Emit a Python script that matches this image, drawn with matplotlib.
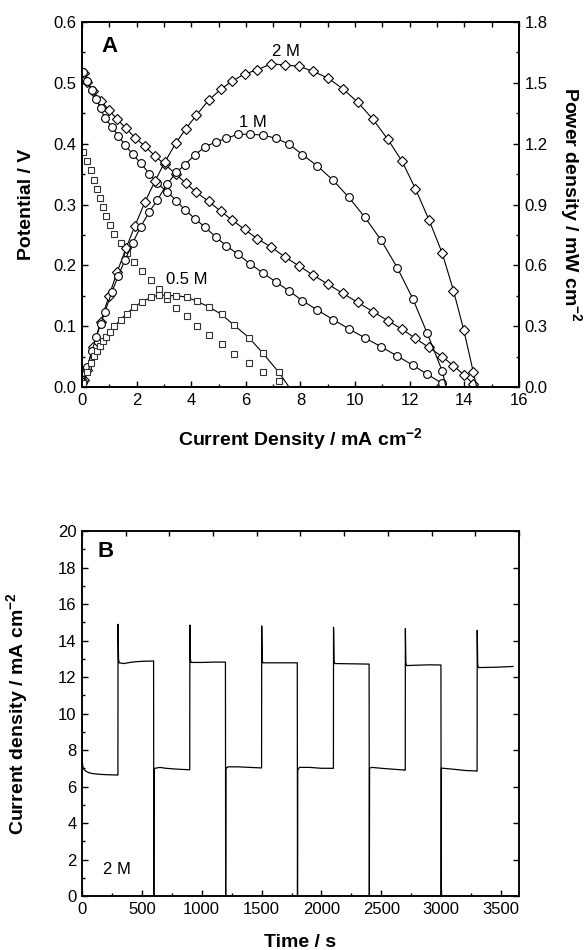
"""
Fuel cell polarisation / power curves (A) and current transient (B)
"""

import matplotlib
matplotlib.use('Agg')
import matplotlib.pyplot as plt
from matplotlib.ticker import MultipleLocator

plt.rcParams['font.family'] = ['Liberation Sans', 'DejaVu Sans']
plt.rcParams['mathtext.fontset'] = 'custom'
plt.rcParams['mathtext.rm'] = 'Liberation Sans'
plt.rcParams['mathtext.bf'] = 'Liberation Sans:bold'

# ---- panel A : polarisation curves ----
# 2 M (diamonds)
I_2M = [0.07, 0.17, 0.41, 0.68, 0.99, 1.29, 1.61, 1.94, 2.30, 2.67,
        3.03, 3.44, 3.80, 4.19, 4.64, 5.08, 5.51, 5.96, 6.41, 6.93,
        7.42, 7.95, 8.46, 9.01, 9.55, 10.10, 10.65, 11.20, 11.72, 12.21,
        12.70, 13.19, 13.60, 13.98, 14.33]
V_2M = [0.516, 0.502, 0.486, 0.471, 0.455, 0.440, 0.425, 0.410, 0.396, 0.380,
        0.366, 0.350, 0.335, 0.320, 0.305, 0.289, 0.274, 0.259, 0.244, 0.230,
        0.214, 0.199, 0.184, 0.169, 0.154, 0.139, 0.124, 0.109, 0.095, 0.080,
        0.065, 0.050, 0.035, 0.020, 0.005]
Ip_2M = I_2M + [14.45]
P_2M = [0.036, 0.085, 0.199, 0.320, 0.450, 0.568, 0.684, 0.795, 0.911, 1.015,
        1.109, 1.204, 1.273, 1.341, 1.415, 1.468, 1.510, 1.544, 1.564, 1.594,
        1.588, 1.582, 1.557, 1.523, 1.471, 1.404, 1.321, 1.221, 1.113, 0.977,
        0.826, 0.660, 0.476, 0.280, 0.072, 0.0]

# 1 M (circles)
I_1M = [0.05, 0.20, 0.36, 0.52, 0.68, 0.84, 1.09, 1.33, 1.57, 1.85,
        2.15, 2.46, 2.75, 3.12, 3.46, 3.77, 4.13, 4.50, 4.89, 5.29,
        5.72, 6.14, 6.61, 7.09, 7.58, 8.07, 8.60, 9.19, 9.76, 10.35,
        10.96, 11.54, 12.11, 12.64, 13.19]
V_1M = [0.518, 0.503, 0.488, 0.473, 0.458, 0.442, 0.428, 0.413, 0.398, 0.383,
        0.368, 0.351, 0.335, 0.321, 0.306, 0.291, 0.277, 0.263, 0.247, 0.232,
        0.218, 0.203, 0.188, 0.173, 0.158, 0.142, 0.127, 0.111, 0.096, 0.081,
        0.066, 0.051, 0.036, 0.021, 0.006]
Ip_1M = I_1M + [13.33]
P_1M = [0.026, 0.101, 0.176, 0.246, 0.311, 0.371, 0.467, 0.549, 0.625, 0.709,
        0.791, 0.863, 0.921, 1.002, 1.059, 1.097, 1.144, 1.184, 1.208, 1.227,
        1.247, 1.246, 1.243, 1.227, 1.198, 1.146, 1.092, 1.020, 0.937, 0.838,
        0.723, 0.589, 0.436, 0.265, 0.079, 0.0]

# 0.5 M (squares)
I_05M = [0.05, 0.20, 0.33, 0.45, 0.55, 0.65, 0.76, 0.88, 1.02, 1.19,
         1.41, 1.64, 1.92, 2.20, 2.51, 2.82, 3.12, 3.46, 3.83, 4.22,
         4.65, 5.11, 5.56, 6.11, 6.63, 7.21]
V_05M = [0.387, 0.371, 0.356, 0.341, 0.326, 0.311, 0.296, 0.281, 0.266, 0.251,
         0.236, 0.221, 0.206, 0.191, 0.176, 0.161, 0.145, 0.130, 0.116, 0.100,
         0.085, 0.070, 0.055, 0.040, 0.025, 0.010]
Ip_05M = I_05M + [7.58]
P_05M = [0.019, 0.074, 0.117, 0.153, 0.179, 0.202, 0.225, 0.247, 0.271, 0.299,
         0.333, 0.362, 0.396, 0.420, 0.442, 0.454, 0.452, 0.450, 0.444, 0.422,
         0.395, 0.358, 0.306, 0.244, 0.166, 0.072, 0.0]

# ---- panel B : current density vs time, 2 M ----
t_s = [0, 3, 10, 30, 60, 100, 150, 200, 250, 297,
       300, 301, 305, 310, 350, 400, 450, 500, 598,
       600, 602, 610, 650, 700, 800, 898,
       900, 901, 905, 910, 1000, 1100, 1198,
       1200, 1202, 1220, 1300, 1400, 1498,
       1500, 1501, 1505, 1510, 1600, 1700, 1798,
       1800, 1802, 1815, 1900, 2000, 2098,
       2100, 2101, 2105, 2110, 2200, 2300, 2398,
       2400, 2402, 2420, 2500, 2600, 2698,
       2700, 2701, 2705, 2710, 2800, 2900, 2998,
       3000, 3002, 3020, 3100, 3200, 3298,
       3300, 3301, 3305, 3310, 3400, 3500, 3600]
j_s = [9.8, 7.3, 7.0, 6.85, 6.75, 6.70, 6.67, 6.65, 6.64, 6.63,
       6.63, 14.89, 13.0, 12.78, 12.74, 12.80, 12.84, 12.86, 12.88,
       0.0, 6.9, 7.0, 7.05, 7.0, 6.95, 6.92,
       6.92, 14.85, 13.0, 12.80, 12.80, 12.82, 12.82,
       0.0, 7.0, 7.08, 7.08, 7.05, 7.02,
       7.02, 14.80, 12.95, 12.78, 12.78, 12.78, 12.78,
       0.0, 6.9, 7.05, 7.05, 7.0, 7.0,
       7.0, 14.73, 12.9, 12.74, 12.73, 12.72, 12.71,
       0.0, 7.0, 7.05, 7.0, 6.95, 6.9,
       6.9, 14.65, 12.8, 12.63, 12.65, 12.67, 12.66,
       0.0, 7.0, 7.0, 6.95, 6.88, 6.85,
       6.85, 14.56, 12.7, 12.52, 12.53, 12.55, 12.58]

plt.close('all')
fig = plt.figure(figsize=(5.84, 9.5), dpi=100)
axA = fig.add_axes([0.1404, 0.5926, 0.7483, 0.3842])
axP = axA.twinx()
axAt = axA.twiny()
axB = fig.add_axes([0.1404, 0.0568, 0.7483, 0.3842])
axBt = axB.twiny()

lw = 0.8
mk = dict(mfc='white', mec='black', mew=0.8, color='black', lw=lw)

# potential curves (left axis)
axA.plot(I_2M, V_2M, marker='D', ms=4.6, **mk)
axA.plot(I_1M, V_1M, marker='o', ms=5.6, **mk)
axA.plot(I_05M, V_05M, marker='s', ms=4.6, ls='none', mfc='white',
         mec='#333333', mew=0.8)

# power curves (right axis)
axP.plot(Ip_2M, P_2M, marker='D', ms=4.6, markevery=slice(0, -1), **mk)
axP.plot(Ip_1M, P_1M, marker='o', ms=5.6, markevery=slice(0, -1), **mk)
axP.plot(Ip_05M, P_05M, marker='s', ms=4.6, markevery=slice(0, -1),
         mfc='white', mec='#333333', mew=0.8, color='black', lw=lw)

axA.set_xlim(0, 16)
axA.set_ylim(0, 0.6)
axP.set_ylim(0, 1.8)

axA.xaxis.set_major_locator(MultipleLocator(2))
axA.xaxis.set_minor_locator(MultipleLocator(1))
axA.yaxis.set_major_locator(MultipleLocator(0.1))
axA.yaxis.set_minor_locator(MultipleLocator(0.05))
axP.yaxis.set_major_locator(MultipleLocator(0.3))
axP.yaxis.set_minor_locator(MultipleLocator(0.15))
axA.yaxis.set_major_formatter(plt.FormatStrFormatter('%.1f'))
axP.yaxis.set_major_formatter(plt.FormatStrFormatter('%.1f'))

# top spine of A: plain ticks every unit
axAt.set_xlim(0, 16)
axAt.xaxis.set_major_locator(MultipleLocator(1))

axA.text(1.02, 0.559, 'A', fontsize=16, fontweight='bold', ha='center', va='center')
axA.text(7.45, 0.552, '2 M', fontsize=12, ha='center', va='center')
axA.text(6.25, 0.435, '1 M', fontsize=12, ha='center', va='center')
axA.text(3.84, 0.176, '0.5 M', fontsize=12, ha='center', va='center')

axA.set_xlabel(r'Current Density / mA cm$^{\mathbf{-2}}$', fontsize=14,
               fontweight='bold', va='center')
axA.xaxis.set_label_coords(0.5, -0.145)
axA.set_ylabel('Potential / V', fontsize=14, fontweight='bold', va='center')
axA.yaxis.set_label_coords(-0.126, 0.5)
axP.set_ylabel(r'Power density / mW cm$^{\mathbf{-2}}$', fontsize=14,
               fontweight='bold', rotation=270, va='center')
axP.yaxis.set_label_coords(1.117, 0.5)

# panel B
axB.plot(t_s, j_s, color='black', lw=0.9)
axB.set_xlim(0, 3650)
axB.set_ylim(0, 20)
axB.xaxis.set_major_locator(MultipleLocator(500))
axB.xaxis.set_minor_locator(MultipleLocator(250))
axB.yaxis.set_major_locator(MultipleLocator(2))
axB.yaxis.set_minor_locator(MultipleLocator(1))
# top spine of B carries its own evenly spaced ticks (tenths of the width)
axBt.set_xlim(0, 10)
axBt.xaxis.set_major_locator(MultipleLocator(1))

axB.text(201, 18.87, 'B', fontsize=16, fontweight='bold', ha='center', va='center')
axB.text(294, 1.46, '2 M', fontsize=12, ha='center', va='center')
axB.set_xlabel('Time / s', fontsize=14, fontweight='bold', va='center')
axB.xaxis.set_label_coords(0.5, -0.126)
axB.set_ylabel(r'Current density / mA cm$^{\mathbf{-2}}$', fontsize=14,
               fontweight='bold', va='center')
axB.yaxis.set_label_coords(-0.146, 0.5)

for ax in (axA, axP, axB, axAt, axBt):
    for s in ax.spines.values():
        s.set_linewidth(1.1)
    ax.tick_params(which='both', direction='in', labelsize=12, width=1.0, pad=4)
    ax.tick_params(which='major', length=4.5)
    ax.tick_params(which='minor', length=2.5)

for ax in (axAt, axBt):
    ax.tick_params(which='major', length=3.5, labeltop=False)
    ax.tick_params(which='minor', top=False)

axB.tick_params(which='major', right=True)

fig.savefig('out.png', dpi=100)
